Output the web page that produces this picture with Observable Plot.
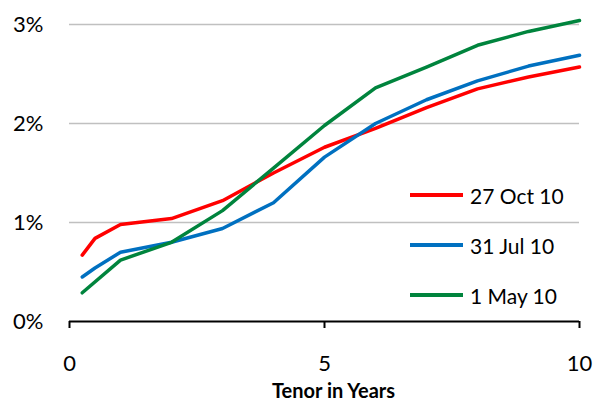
<!DOCTYPE html>
<html>
<head>
<meta charset="utf-8">
<script src="https://cdn.jsdelivr.net/npm/d3@7"></script>
<script src="https://cdn.jsdelivr.net/npm/@observablehq/plot@0.6"></script>
<style>
  html, body { margin: 0; padding: 0; background: #fff; }
  #wrap { position: relative; width: 594px; height: 402px; font-family: Lato, "Open Sans", sans-serif; }
  #legend { position: absolute; left: 410px; top: 170px; }
  .item { display: flex; align-items: center; height: 50px; }
  .swatch { width: 53px; height: 3.5px; margin-right: 7px; }
  .item span { font-size: 21px; color: #000; }
</style>
</head>
<body>
<div id="wrap"><div id="legend"></div></div>
<script>
// Yield curves: tenor in years vs. yield (%)
const series = ["27 Oct 10", "31 Jul 10", "1 May 10"];
const colors = ["#ff0000", "#0070c0", "#00843d"];

const tenorOct = [0.25, 0.5, 1, 2, 3, 4, 5, 6, 7, 8, 9, 10];
const yieldOct = [0.67, 0.84, 0.98, 1.04, 1.22, 1.50, 1.76, 1.95, 2.16, 2.35, 2.47, 2.57];

const tenorJul = [0.25, 0.5, 1, 2, 3, 4, 5, 6, 7, 8, 9, 10];
const yieldJul = [0.45, 0.54, 0.70, 0.80, 0.94, 1.20, 1.66, 2.00, 2.24, 2.43, 2.58, 2.69];

const tenorMay = [0.25, 1, 2, 3, 4, 5, 6, 7, 8, 9, 10];
const yieldMay = [0.29, 0.62, 0.80, 1.12, 1.55, 1.98, 2.36, 2.57, 2.79, 2.93, 3.04];

const xTicks = [0, 5, 10];
const yTicks = [0, 1, 2, 3];

const rows = [];
[[tenorOct, yieldOct], [tenorJul, yieldJul], [tenorMay, yieldMay]].forEach(([t, y], i) => {
  t.forEach((tenor, j) => rows.push({series: series[i], tenor, value: y[j]}));
});

const font = "Lato, 'Open Sans', sans-serif";

const chart = Plot.plot({
  width: 594,
  height: 402,
  marginLeft: 69,
  marginRight: 15,
  marginTop: 24,
  marginBottom: 81,
  style: {fontFamily: font, background: "#fff"},
  x: {domain: [0, 10]},
  y: {domain: [0, 3]},
  color: {domain: series, range: colors},
  marks: [
    Plot.gridY([1, 2, 3], {stroke: "#c0c0c0", strokeOpacity: 1, strokeWidth: 1.5}),
    Plot.axisY({ticks: yTicks, tickSize: 0, tickPadding: 26, fontSize: 22, tickFormat: d => d + "%", label: null, fill: "#000"}),
    Plot.axisX({ticks: xTicks, tickSize: 7, tickPadding: 27, fontSize: 22, strokeWidth: 2, stroke: "#000", label: null, fill: "#000"}),
    Plot.ruleY([0], {stroke: "#000", strokeWidth: 2}),
    Plot.line(rows, {x: "tenor", y: "value", z: "series", stroke: "series", strokeWidth: 3.5}),
    Plot.text(["Tenor in Years"], {frameAnchor: "bottom", lineAnchor: "bottom", dx: 9, dy: 76, text: d => d, fontSize: 20, fontWeight: "bold", fill: "#000"})
  ]
});

document.getElementById("wrap").prepend(chart);
chart.style.position = "absolute";
chart.style.left = "0";
chart.style.top = "0";

const legend = document.getElementById("legend");
series.forEach((s, i) => {
  const item = document.createElement("div");
  item.className = "item";
  const sw = document.createElement("div");
  sw.className = "swatch";
  sw.style.background = colors[i];
  const label = document.createElement("span");
  label.textContent = s;
  item.append(sw, label);
  legend.append(item);
});
</script>
</body>
</html>
